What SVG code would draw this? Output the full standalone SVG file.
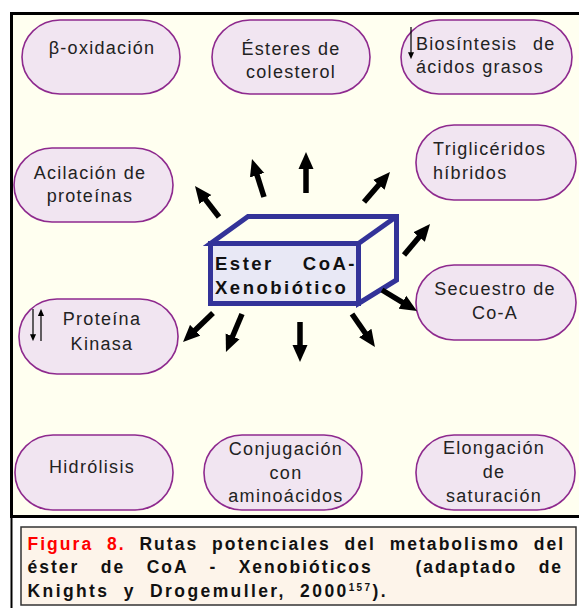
<svg xmlns="http://www.w3.org/2000/svg" width="579" height="608" viewBox="0 0 579 608">
<defs>
<style>
.node rect{fill:#F1E5F1;stroke:#8E2A8E;stroke-width:1.6}
.nt{font-family:"Liberation Sans",Arial,sans-serif;font-size:18px;fill:#222;letter-spacing:1.3px}
.c{text-anchor:middle}
.conn line{stroke:#000;stroke-width:5.5;marker-end:url(#ah)}
.thin{stroke:#000;stroke-width:1.2;fill:none}
.cap{font-family:"Liberation Sans",Arial,sans-serif;font-size:17.5px;font-weight:bold;fill:#111;letter-spacing:2.4px}
.box{font-family:"Liberation Sans",Arial,sans-serif;font-size:18.5px;font-weight:bold;fill:#111;letter-spacing:2.5px}
.cube{stroke:#333399;stroke-width:5;stroke-linejoin:miter;fill:#FFFFF0}
</style>
<marker id="ah" viewBox="0 0 17 16" markerWidth="17" markerHeight="16" refX="2" refY="8" orient="auto" markerUnits="userSpaceOnUse">
<path d="M0,0.5 L17,8 L0,15.5 z" fill="#000"/>
</marker>
<marker id="sh" viewBox="0 0 8 8" markerWidth="7" markerHeight="7" refX="1" refY="4" orient="auto" markerUnits="userSpaceOnUse">
<path d="M0,0.5 L8,4 L0,7.5 z" fill="#000"/>
</marker>
</defs>
<rect x="0" y="0" width="579" height="608" fill="#fff"/>
<rect x="11.5" y="13.5" width="580" height="503" fill="#FFFFF0" stroke="#000" stroke-width="3"/>
<line x1="11.5" y1="516" x2="11.5" y2="608" stroke="#000" stroke-width="2"/>

<g id="n-beta" class="node"><rect x="22" y="20" width="158" height="74" rx="38" ry="37"/><text class="nt c" x="102" y="54">β-oxidación</text></g>
<g id="n-esteres" class="node"><rect x="212" y="20" width="158" height="74" rx="38" ry="37"/><text class="nt c" x="291" y="55">Ésteres de</text><text class="nt c" x="291" y="78">colesterol</text></g>
<g id="n-bio" class="node"><rect x="401" y="20" width="171" height="74" rx="38" ry="37"/><text class="nt" x="416" y="50">Biosíntesis</text><text class="nt" x="533" y="50">de</text><text class="nt" x="416" y="73">ácidos grasos</text><line class="thin" x1="411" y1="27" x2="411" y2="53" marker-end="url(#sh)"/></g>
<g id="n-acil" class="node"><rect x="14" y="148" width="159" height="74" rx="38" ry="37"/><text class="nt c" x="90" y="179">Acilación de</text><text class="nt c" x="90" y="202">proteínas</text></g>
<g id="n-trig" class="node"><rect x="416" y="125" width="160" height="75" rx="38" ry="37"/><text class="nt" x="433" y="155">Triglicéridos</text><text class="nt" x="433" y="179">híbridos</text></g>
<g id="n-secu" class="node"><rect x="416" y="265" width="160" height="75" rx="38" ry="37"/><text class="nt c" x="495" y="295">Secuestro de</text><text class="nt c" x="495" y="319">Co-A</text></g>
<g id="n-prot" class="node"><rect x="19" y="299" width="159" height="75" rx="38" ry="37"/><text class="nt c" x="102" y="325">Proteína</text><text class="nt c" x="102" y="350">Kinasa</text><line class="thin" x1="33" y1="309" x2="33" y2="335" marker-end="url(#sh)"/><line class="thin" x1="41" y1="341" x2="41" y2="315" marker-end="url(#sh)"/></g>
<g id="n-hidr" class="node"><rect x="15" y="435" width="158" height="75" rx="38" ry="37"/><text class="nt c" x="92" y="473">Hidrólisis</text></g>
<g id="n-conj" class="node"><rect x="204" y="435" width="158" height="75" rx="38" ry="37"/><text class="nt c" x="286" y="455">Conjugación</text><text class="nt c" x="286" y="479">con</text><text class="nt c" x="286" y="502">aminoácidos</text></g>
<g id="n-elon" class="node"><rect x="416" y="435" width="159" height="75" rx="38" ry="37"/><text class="nt c" x="494" y="454">Elongación</text><text class="nt c" x="494" y="478">de</text><text class="nt c" x="494" y="502">saturación</text></g>

<g id="n-center">
<path class="cube" d="M210.5,243.5 L248,216.5 L396.5,216.5 L396.5,280 L358.5,303.5 L358.5,243.5 Z"/>
<line x1="358.5" y1="243.5" x2="396.5" y2="216.5" stroke="#333399" stroke-width="5"/>
<rect x="210.5" y="243.5" width="148" height="60" fill="#E8E8F5" stroke="#333399" stroke-width="5"/>
<text class="box" y="270"><tspan x="215">Ester</tspan><tspan x="357" text-anchor="end">CoA-</tspan></text>
<text class="box" x="215" y="294">Xenobiótico</text>
</g>

<g id="connectors" class="conn">
<line x1="219" y1="217" x2="204.2" y2="197.9"/>
<line x1="264" y1="197" x2="256.5" y2="173.3"/>
<line x1="306" y1="193" x2="306" y2="167"/>
<line x1="364" y1="202" x2="380.2" y2="183.3"/>
<line x1="404" y1="255" x2="420.4" y2="235.5"/>
<line x1="382" y1="290" x2="404.1" y2="303.3"/>
<line x1="352" y1="314" x2="366.4" y2="334.7"/>
<line x1="300" y1="322" x2="300" y2="347"/>
<line x1="242" y1="314" x2="231.8" y2="338.2"/>
<line x1="213" y1="313" x2="193.8" y2="331.6"/>
</g>

<g id="caption">
<rect x="21" y="527" width="555" height="78" fill="#FDF4EA" stroke="#333" stroke-width="1.5"/>
<text class="cap" x="27.5" y="550" style="word-spacing:6.9px" textLength="538" lengthAdjust="spacing"><tspan fill="#FF0000">Figura 8.</tspan> Rutas potenciales del metabolismo del</text>
<text class="cap" x="27.5" y="573" style="word-spacing:14.5px" textLength="536" lengthAdjust="spacing" xml:space="preserve">éster de CoA - Xenobióticos  (adaptado de</text>
<text class="cap" x="27.5" y="597" style="word-spacing:7px">Knights y Drogemuller, 2000<tspan font-size="10" dy="-6">157</tspan><tspan dy="6">).</tspan></text>
</g>
</svg>
